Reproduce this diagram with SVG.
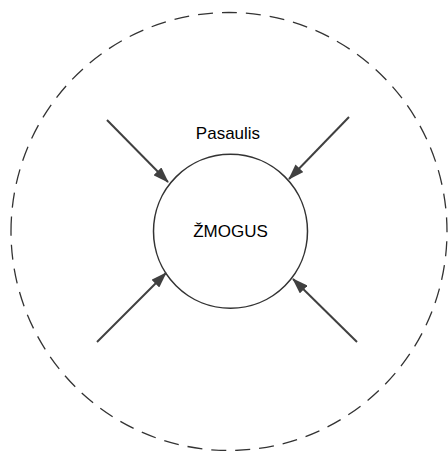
<svg xmlns="http://www.w3.org/2000/svg" width="448" height="451" viewBox="0 0 448 451">
  <defs>
    <style>
      .outer { fill: none; stroke: #333333; stroke-width: 1.3; stroke-dasharray: 15 9; }
      .node { fill: #ffffff; stroke: #333333; stroke-width: 1.5; }
      .lbl { font-family: "Liberation Sans", Arial, sans-serif; font-size: 17px; fill: #000000; text-anchor: middle; }
      .edge { fill: none; stroke: #404040; stroke-width: 2; marker-end: url(#ah); }
    </style>
    <marker id="ah" viewBox="0 0 16 11" refX="15" refY="5.5" markerWidth="16" markerHeight="11" markerUnits="userSpaceOnUse" orient="auto">
      <path d="M0 0 L16 5.5 L0 11 Z" fill="#404040"/>
    </marker>
  </defs>
  <rect width="448" height="451" fill="#ffffff"/>
  <g id="world">
    <path class="outer" d="M 11 231.5 A 218 219 0 0 1 447 231.5 A 218 219 0 0 1 11 231.5 Z"/>
    <text class="lbl" x="228" y="139">Pasaulis</text>
  </g>
  <g id="zmogus">
    <circle class="node" cx="230.5" cy="231.3" r="77"/>
    <text class="lbl" x="230.5" y="237">ŽMOGUS</text>
  </g>
  <g id="connectors">
    <line class="edge" x1="107" y1="120" x2="168" y2="182"/>
    <line class="edge" x1="349" y1="117" x2="289" y2="179"/>
    <line class="edge" x1="97" y1="342" x2="166" y2="273"/>
    <line class="edge" x1="357" y1="342" x2="293" y2="279"/>
  </g>
</svg>
